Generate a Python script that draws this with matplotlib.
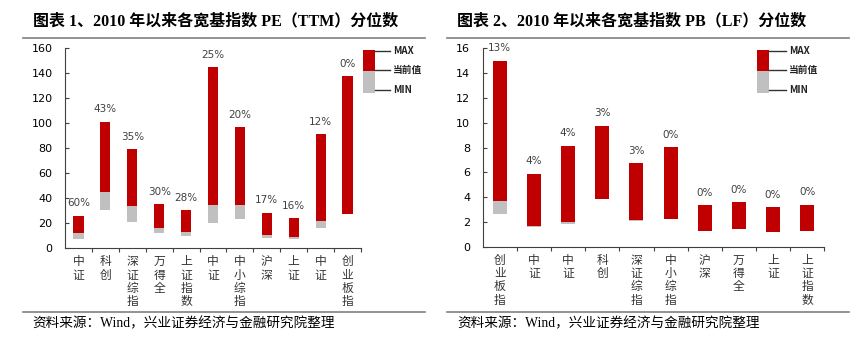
import numpy as np
import matplotlib
matplotlib.use('Agg')
import matplotlib.pyplot as plt
from matplotlib.patches import Rectangle
from matplotlib.lines import Line2D

# PE (TTM) since 2010: max / current / min and current percentile
pe_names = ['中证', '科创', '深证综指', '万得全', '上证指数', '中证', '中小综指', '沪深', '上证', '中证', '创业板指']
pe_max   = [26.0, 101.3, 79.2, 35.4, 30.6, 144.8, 97.0, 28.5, 24.0, 91.4, 137.8]
pe_cur   = [12.2, 45.3, 33.6, 16.5, 12.8, 34.6, 34.6, 10.9, 9.3, 21.6, 27.4]
pe_min   = [7.7, 30.6, 21.3, 12.5, 9.8, 20.0, 23.7, 8.5, 7.7, 16.2, 27.4]
pe_pct   = ['60%', '43%', '35%', '30%', '28%', '25%', '20%', '17%', '16%', '12%', '0%']

# PB (LF) since 2010
pb_names = ['创业板指', '中证', '中证', '科创', '深证综指', '中小综指', '沪深', '万得全', '上证', '上证指数']
pb_max   = [15.0, 5.9, 8.15, 9.76, 6.72, 8.04, 3.34, 3.6, 3.18, 3.39]
pb_cur   = [3.69, 1.64, 2.0, 3.85, 2.13, 2.2, 1.27, 1.45, 1.16, 1.27]
pb_min   = [2.6, 1.56, 1.8, 3.85, 2.05, 2.2, 1.27, 1.45, 1.16, 1.27]
pb_pct   = ['13%', '4%', '4%', '3%', '3%', '0%', '0%', '0%', '0%', '0%']

RED = '#C00000'
GRAY = '#C0C0C0'
SPINE = '#404040'
CJK = ['Noto Sans CJK SC', 'DejaVu Sans']
TITLE_FONT = ['Liberation Serif', 'Noto Sans CJK SC']

W, H = 865, 344
fig = plt.figure(figsize=(W / 100, H / 100), dpi=100)


def px_axes(x0, x1, y_top, y_bot):
    return fig.add_axes([x0 / W, 1 - y_bot / H, (x1 - x0) / W, (y_bot - y_top) / H])


def draw_panel(ax, names, vmax, vcur, vmin, pct, ymax, ystep, bw):
    n = len(names)
    x = np.arange(n)
    vmax, vcur, vmin = np.array(vmax), np.array(vcur), np.array(vmin)
    ax.bar(x, vcur - vmin, bottom=vmin, width=bw, color=GRAY, linewidth=0)
    ax.bar(x, vmax - vcur, bottom=vcur, width=bw, color=RED, linewidth=0)
    for i in range(n):
        ax.annotate(pct[i], (x[i], vmax[i]), xytext=(0, 9), textcoords='offset points',
                    ha='center', va='center', fontsize=7.5, color='#404040')
        ax.annotate('\n'.join(names[i]), (x[i], 0), xycoords=('data', 'axes fraction'),
                    xytext=(0, -5), textcoords='offset points', ha='center', va='top',
                    fontsize=8.5, color='#333333', family=CJK, linespacing=1.04)
    ax.set_xlim(-0.5, n - 0.5)
    ax.set_ylim(0, ymax)
    ax.set_yticks(np.arange(0, ymax + ystep / 2, ystep))
    ax.set_xticks(np.arange(0.5, n, 1.0))
    ax.set_xticklabels([])
    ax.tick_params(axis='x', direction='out', length=3, width=0.8, color=SPINE)
    ax.tick_params(axis='y', direction='in', length=3, width=0.8, color=SPINE,
                   labelsize=8, pad=9, labelcolor='black')
    for s in ['top', 'right']:
        ax.spines[s].set_visible(False)
    for s in ['left', 'bottom']:
        ax.spines[s].set_color(SPINE)
        ax.spines[s].set_linewidth(0.8)
    ax.set_facecolor('none')


def draw_key(x0, x1, xt):
    # small MAX / 当前值 / MIN key, figure pixel coords
    tr = fig.transFigure
    fig.patches.append(Rectangle((x0 / W, 1 - 70.7 / H), (x1 - x0) / W, 20.7 / H,
                                 transform=tr, color=RED, lw=0))
    fig.patches.append(Rectangle((x0 / W, 1 - 92.7 / H), (x1 - x0) / W, 22 / H,
                                 transform=tr, color=GRAY, lw=0))
    for y, lab in [(50.7, 'MAX'), (70.0, '当前值'), (90.0, 'MIN')]:
        fig.lines.append(Line2D([x1 / W, (xt - 3) / W], [1 - y / H, 1 - y / H],
                                transform=tr, color='#333333', lw=1))
        fig.text(xt / W, 1 - y / H, lab, fontsize=7, fontweight='bold',
                 family=CJK, va='center', ha='left', color='#222222')


def draw_frame(x0, x1, title):
    tr = fig.transFigure
    fig.text((x0 + 10) / W, 1 - 21.7 / H, title, fontsize=11.5, fontweight='bold',
             family=TITLE_FONT, va='center', ha='left', color='black')
    for y in (38.3, 312.3):
        fig.lines.append(Line2D([x0 / W, x1 / W], [1 - y / H, 1 - y / H],
                                transform=tr, color='#808080', lw=1.2))
    fig.text((x0 + 10) / W, 1 - 324 / H, '资料来源：Wind，兴业证券经济与金融研究院整理',
             fontsize=9.8, family=TITLE_FONT, va='center', ha='left', color='black')


ax1 = px_axes(65, 361, 48.3, 248.3)
draw_panel(ax1, pe_names, pe_max, pe_cur, pe_min, pe_pct, 160, 20, 0.38)
ax2 = px_axes(482.7, 824.3, 48.3, 246.7)
draw_panel(ax2, pb_names, pb_max, pb_cur, pb_min, pb_pct, 16, 2, 0.41)

draw_frame(22.7, 425, '图表 1、2010 年以来各宽基指数 PE（TTM）分位数')
draw_frame(447, 849, '图表 2、2010 年以来各宽基指数 PB（LF）分位数')
draw_key(362.7, 375, 393)
draw_key(756.7, 769, 789)

fig.savefig('out.png', dpi=100)
